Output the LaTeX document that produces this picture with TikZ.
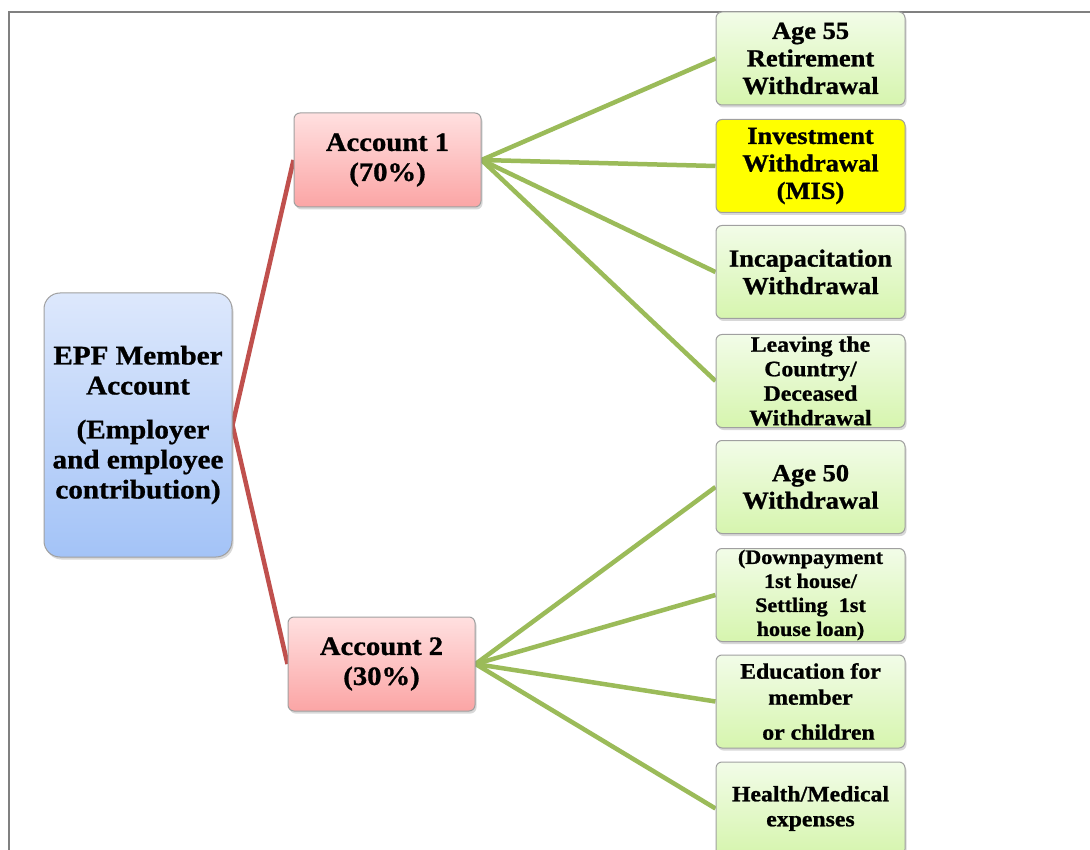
\documentclass[tikz,border=0pt]{standalone}
\usepackage{fontspec}
\setmainfont{Liberation Serif}[FakeStretch=1.08]
\newfontfamily\boxfont{Liberation Serif Bold}[FakeStretch=1.08, FakeBold=1]
\usetikzlibrary{shadows,backgrounds}
\definecolor{redline}{HTML}{C0504D}
\definecolor{greenline}{HTML}{9BBB59}
\definecolor{boxedge}{HTML}{A0A0A0}
\definecolor{frameline}{HTML}{808080}
\definecolor{bluetop}{HTML}{DDE8FC}
\definecolor{bluebot}{HTML}{A3C3F7}
\definecolor{pinktop}{HTML}{FFE0E0}
\definecolor{pinkbot}{HTML}{FBA5A5}
\definecolor{greentop}{HTML}{F2FCE8}
\definecolor{greenbot}{HTML}{D6F5AE}
\begin{document}
\begin{tikzpicture}[x=1pt,y=-1pt,
  box/.style={draw=boxedge, line width=1pt, inner sep=0pt, align=center,
    drop shadow={shadow xshift=1.5pt, shadow yshift=-2.5pt, opacity=0.3}},
  bluebox/.style={box, top color=bluetop, bottom color=bluebot, rounded corners=16pt,
    minimum width=188pt, minimum height=264pt,
    font=\boxfont\fontsize{27}{30}\selectfont},
  pinkbox/.style={box, top color=pinktop, bottom color=pinkbot, rounded corners=6pt,
    minimum width=187pt, minimum height=94pt,
    font=\boxfont\fontsize{26.5}{30}\selectfont},
  greenbox/.style={box, top color=greentop, bottom color=greenbot, rounded corners=6pt,
    minimum width=189pt, minimum height=93pt,
    font=\boxfont\fontsize{24.5}{27.5}\selectfont},
  yellowbox/.style={greenbox, fill=yellow, top color=yellow, bottom color=yellow},
  redlink/.style={draw=redline, line width=4.5pt},
  greenlink/.style={draw=greenline, line width=4.5pt}
]
\path[use as bounding box] (0,0) rectangle (1090,850);
\clip (0,0) rectangle (1090,850);
\begin{pgfonlayer}{background}
\fill[white] (0,0) rectangle (1090,850);
\draw[frameline, line width=2pt] (9,12) rectangle (1120,880);
\end{pgfonlayer}

\node[bluebox] (epf) at (138,425) {EPF Member\\Account\\[14pt]\hspace*{10pt}(Employer\\and employee\\contribution)};
\node[pinkbox] (acc1) at (387.5,160) {Account 1\\(70\%)};
\node[pinkbox] (acc2) at (381.5,664) {Account 2\\(30\%)};

\node[greenbox] (g1) at (810.5,58.5) {Age 55\\Retirement\\Withdrawal};
\node[yellowbox] (g2) at (810.5,166) {Investment\\Withdrawal\\(MIS)};
\node[greenbox] (g3) at (810.5,272) {Incapacitation\\Withdrawal};
\node[greenbox, font=\boxfont\fontsize{22}{24.5}\selectfont] (g4) at (810.5,381) {Leaving the\\Country/\\Deceased\\Withdrawal};
\node[greenbox] (g5) at (810.5,487) {Age 50\\Withdrawal};
\node[greenbox, font=\boxfont\fontsize{20.5}{24}\selectfont] (g6) at (810.5,595) {(Downpayment\\1st house/\\Settling\ \ 1st\\house loan)};
\node[greenbox, font=\boxfont\fontsize{22}{26}\selectfont] (g7) at (810.5,701.5) {Education for\\member\\[9pt]\hspace*{16pt}or children};
\node[greenbox, font=\boxfont\fontsize{22}{25}\selectfont] (g8) at (810.5,808.5) {Health/Medical\\expenses};

\begin{pgfonlayer}{background}
\draw[redlink] (epf.east) -- (acc1.west);
\draw[redlink] (epf.east) -- (acc2.west);
\foreach \g in {g1,g2,g3,g4} \draw[greenlink] (acc1.east) -- (\g.west);
\foreach \g in {g5,g6,g7,g8} \draw[greenlink] (acc2.east) -- (\g.west);
\end{pgfonlayer}
\end{tikzpicture}
\end{document}
